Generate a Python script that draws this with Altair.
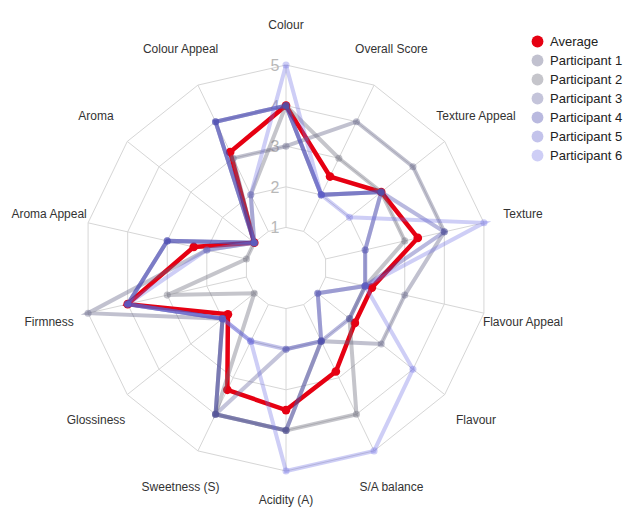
import altair as alt
import pandas as pd

attributes = ["Colour", "Overall Score", "Texture Appeal", "Texture", "Flavour Appeal",
              "Flavour", "S/A balance", "Acidity (A)", "Sweetness (S)", "Glossiness",
              "Firmness", "Aroma Appeal", "Aroma", "Colour Appeal"]

series_names = ["Average", "Participant 1", "Participant 2", "Participant 3",
                "Participant 4", "Participant 5", "Participant 6"]

average = [4.0, 2.5, 3.0, 3.33, 2.17, 2.17, 2.83, 3.5, 3.33, 1.83, 4.0, 2.33, 1.0, 3.17]
participant_1 = [3, 4, 4, 4, 3, 3, 2, 4, 4, 2, 5, 2, 1, 3]
participant_2 = [4, 3, 3, 3, 2, 2, 4, 4, 4, 1, 3, 1, 1, 2]
participant_3 = [4, 2, 3, 2, 2, 1, 2, 2, 4, 2, 4, 3, 1, 4]
participant_4 = [4, 2, 3, 4, 2, 2, 2, 4, 4, 2, 4, 3, 1, 4]
participant_5 = [4, 2, 3, 2, 2, 1, 2, 2, 2, 2, 4, 3, 1, 4]
participant_6 = [5, 2, 2, 5, 2, 4, 5, 5, 2, 2, 4, 2, 1, 2]

levels = [1, 2, 3, 4, 5]
level_labels = ["1", "2", "3", "4", "5"]

N = len(attributes)
all_series = [average, participant_1, participant_2, participant_3,
              participant_4, participant_5, participant_6]

rows = []
for name, vals in zip(series_names, all_series):
    for i in range(N + 1):
        rows.append({"series": name, "idx": i, "value": vals[i % N]})
df = pd.DataFrame(rows)

ring_rows = []
for lv in levels:
    for i in range(N + 1):
        ring_rows.append({"level": lv, "idx": i})
rings_df = pd.DataFrame(ring_rows)

spokes_df = pd.DataFrame({"idx": list(range(N)), "r1": levels[0], "r2": levels[-1]})
ticks_df = pd.DataFrame({"level": levels, "label": level_labels})
labels_df = pd.DataFrame({"idx": list(range(N)), "name": attributes})

# geometry
UNIT = 40.6
W, H = 620, 499
CX, CY = 278, 260
xdom = [-CX / UNIT, (W - CX) / UNIT]
ydom = [-(H - CY) / UNIT, CY / UNIT]
xs = alt.Scale(domain=xdom, nice=False, zero=False)
ys = alt.Scale(domain=ydom, nice=False, zero=False)
ANG = f"datum.idx * 2 * PI / {N}"
LABEL_R = 243 / UNIT

colors = ["#e60012",
          "rgba(100,100,135,0.40)",
          "rgba(110,110,125,0.40)",
          "rgba(95,95,155,0.37)",
          "rgba(60,60,165,0.36)",
          "rgba(80,80,195,0.34)",
          "rgba(110,110,230,0.34)"]
color_scale = alt.Scale(domain=series_names, range=colors)
# same mapping, listed in reverse so the (hidden) stroke legend is not merged with the colour legend
stroke_scale = alt.Scale(domain=series_names[::-1], range=colors[::-1])

legend = alt.Legend(title=None, orient="none", legendX=523, legendY=27,
                    symbolType="circle", symbolSize=140, labelFontSize=13,
                    labelColor="#222222", labelFont="Liberation Sans",
                    rowPadding=5, labelOffset=6, symbolStrokeWidth=0)

grid_color = "#d6d6d6"

X = alt.X("x:Q", scale=xs, axis=None)
Y = alt.Y("y:Q", scale=ys, axis=None)

rings = alt.Chart(rings_df).transform_calculate(
    x=f"datum.level * sin({ANG})", y=f"datum.level * cos({ANG})"
).mark_line(color=grid_color, strokeWidth=1).encode(
    x=X, y=Y, detail="level:N", order="idx:Q")

spokes = alt.Chart(spokes_df).transform_calculate(
    x=f"datum.r1 * sin({ANG})", y=f"datum.r1 * cos({ANG})",
    x2=f"datum.r2 * sin({ANG})", y2=f"datum.r2 * cos({ANG})"
).mark_rule(color=grid_color, strokeWidth=1).encode(
    x=X, y=Y, x2="x2:Q", y2="y2:Q")

ticks = alt.Chart(ticks_df).transform_calculate(x="0", y="datum.level").mark_text(
    color="#b8b8b8", fontSize=16, font="Liberation Sans", dx=-11, dy=1
).encode(x=X, y=Y, text="label:N")

axis_labels = alt.Chart(labels_df).transform_calculate(
    x=f"{LABEL_R} * sin({ANG})",
    y=f"max({LABEL_R} * cos({ANG}), {ydom[0] + 0.17})"
).mark_text(color="#333333", fontSize=12, font="Liberation Sans").encode(
    x=X, y=Y, text="name:N")

base = alt.Chart(df).transform_calculate(
    x=f"datum.value * sin({ANG})", y=f"datum.value * cos({ANG})")

avg_base = base.transform_filter("datum.series == 'Average'")
par_base = base.transform_filter("datum.series != 'Average'")

avg_line = avg_base.mark_line(strokeWidth=4.5).encode(
    x=X, y=Y,
    stroke=alt.Stroke("series:N", scale=stroke_scale, legend=None),
    order="idx:Q")
avg_pts = avg_base.transform_filter(f"datum.idx < {N}").mark_point(
    filled=True, size=75, opacity=1).encode(
    x=X, y=Y, color=alt.Color("series:N", scale=color_scale, legend=legend))

par_line = par_base.mark_line(strokeWidth=4).encode(
    x=X, y=Y,
    stroke=alt.Stroke("series:N", scale=stroke_scale, legend=None),
    detail="series:N",
    order="idx:Q")
par_pts = par_base.transform_filter(f"datum.idx < {N}").mark_point(
    filled=True, size=50, opacity=1).encode(
    x=X, y=Y, color=alt.Color("series:N", scale=color_scale, legend=legend))

chart = alt.layer(rings, spokes, ticks, axis_labels, avg_line, avg_pts, par_line, par_pts).properties(
    width=W, height=H, padding=0, background="white"
).configure_view(strokeWidth=0)

chart.save("out.html", embed_options={"renderer": "svg", "actions": False})
